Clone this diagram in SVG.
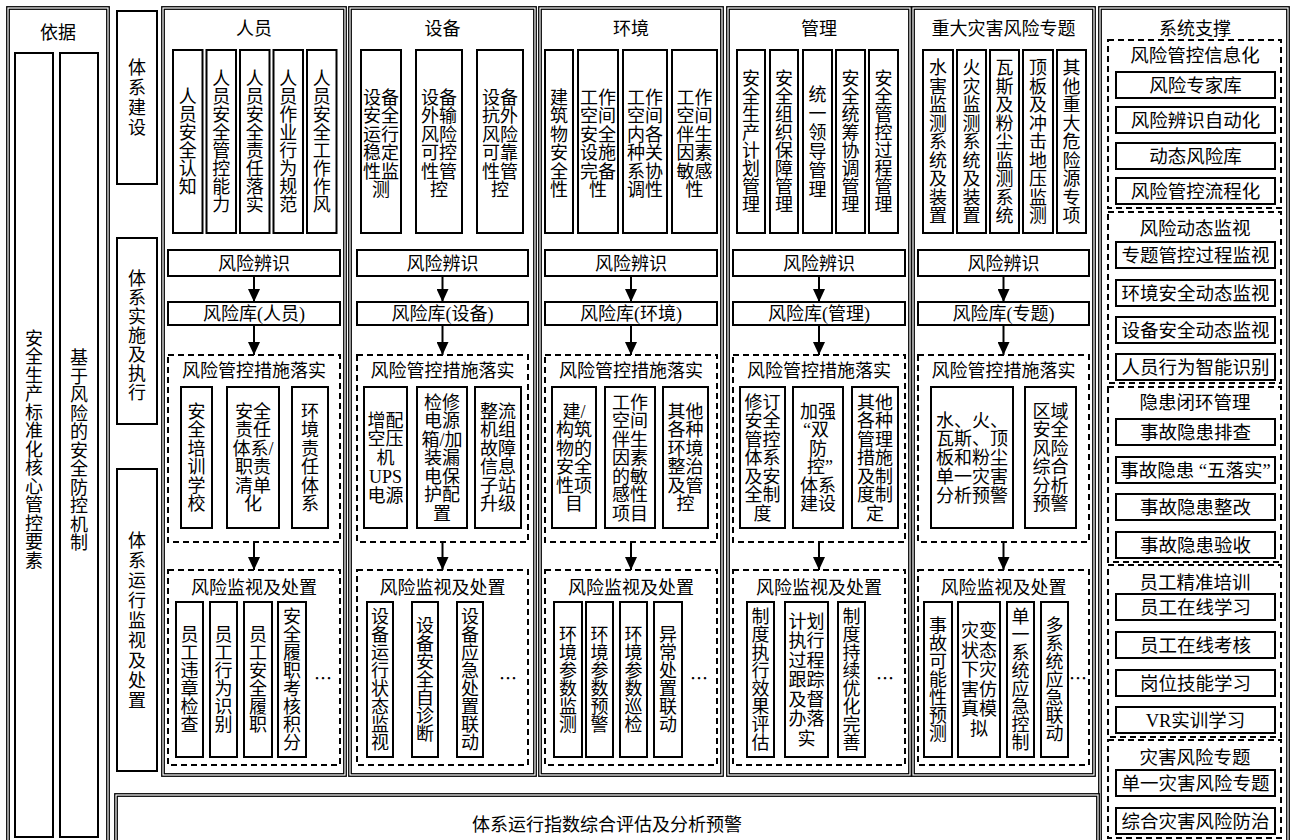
<svg xmlns="http://www.w3.org/2000/svg" width="1292" height="840" viewBox="0 0 1292 840">
<defs>
<style>
.b{fill:#fff;stroke:#000;stroke-width:2}
.o{fill:#fff;stroke:#000;stroke-width:1.3}
.i{fill:none;stroke:#000;stroke-width:1.3}
.d{fill:none;stroke:#000;stroke-width:2;stroke-dasharray:6 4}
.t{font-family:"Liberation Serif","Noto Sans CJK SC",serif;font-size:18px;text-anchor:middle;fill:#000}
.s{font-size:18.5px}
.k{font-family:"Noto Sans CJK SC",sans-serif}
.c{stroke:#000;stroke-width:2;fill:none;marker-end:url(#ah)}
</style>
<marker id="ah" markerUnits="userSpaceOnUse" markerWidth="14" markerHeight="12" refX="13" refY="6" orient="auto"><path d="M0,0 L13,6 L0,12 z" fill="#000"/></marker>
</defs>
<rect width="1292" height="840" fill="#fff"/>

<g id="basis">
<rect class="o" x="6.75" y="6.75" width="102.5" height="845"/>
<rect class="i" x="9.25" y="9.25" width="97.5" height="845"/>
<text class="t" x="58" y="38.5">依据</text>
<rect class="b" x="15" y="53" width="38" height="784"/>
<rect class="b" x="60" y="53" width="38" height="784"/>
<text class="t" x="34 34 34 34 34 34 34 34 34 34 34 34 34" y="344.5 363 381.5 400 418.5 437 455.5 474 492.5 511 529.5 548 566.5">安全生产标准化核心管控要素</text>
<text class="t" x="79 79 79 79 79 79 79 79 79 79 79" y="364 382.5 401 419.5 438 456.5 475 493.5 512 530.5 549">基于风险的安全防控机制</text>
</g>

<g id="stage-build">
<rect class="b" x="117" y="11" width="40" height="173"/>
<text class="t" x="137 137 137 137" y="74 94 114 134">体系建设</text>
</g>
<g id="stage-implement">
<rect class="b" x="117" y="238" width="40" height="186"/>
<text class="t" x="137 137 137 137 137 137 137" y="284.5 303.5 322.5 341.5 360.5 379.5 398.5">体系实施及执行</text>
</g>
<g id="stage-monitor">
<rect class="b" x="117" y="469" width="40" height="302"/>
<text class="t" x="137 137 137 137 137 137 137 137 137" y="546.5 566.5 586.5 606.5 626.5 646.5 666.5 686.5 706.5">体系运行监视及处置</text>
</g>

<g id="personnel">
<rect class="o" x="161.75" y="6.75" width="184.5" height="769.5"/>
<rect class="i" x="164.25" y="9.25" width="179.5" height="764.5"/>
<text class="t" x="254" y="34.5">人员</text>
<rect class="b" x="173" y="50" width="29.5" height="183"/>
<rect class="b" x="206.5" y="50" width="29.5" height="183"/>
<rect class="b" x="240" y="50" width="29.5" height="183"/>
<rect class="b" x="273.5" y="50" width="29.5" height="183"/>
<rect class="b" x="307" y="50" width="29.5" height="183"/>
<text class="t" x="187.75 187.75 187.75 187.75 187.75 187.75" y="103 121 139 157 175 193">人员安全认知</text>
<text class="t" x="221.25 221.25 221.25 221.25 221.25 221.25 221.25 221.25" y="85 103 121 139 157 175 193 211">人员安全管控能力</text>
<text class="t" x="254.75 254.75 254.75 254.75 254.75 254.75 254.75 254.75" y="85 103 121 139 157 175 193 211">人员安全责任落实</text>
<text class="t" x="288.25 288.25 288.25 288.25 288.25 288.25 288.25 288.25" y="85 103 121 139 157 175 193 211">人员作业行为规范</text>
<text class="t" x="321.75 321.75 321.75 321.75 321.75 321.75 321.75 321.75" y="85 103 121 139 157 175 193 211">人员安全工作作风</text>
<rect class="b" x="168" y="250" width="172" height="26"/>
<text class="t" x="254" y="269.5">风险辨识</text>
<rect class="b" x="168" y="302" width="172" height="23"/>
<text class="t" x="254" y="320">风险库(人员)</text>
<rect class="d" x="168" y="355" width="172" height="187"/>
<text class="t" x="254" y="376.5">风险管控措施落实</text>
<rect class="b" x="181" y="387" width="31" height="141"/>
<rect class="b" x="227" y="387" width="52" height="141"/>
<rect class="b" x="292" y="387" width="36" height="141"/>
<text class="t" x="196.5 196.5 196.5 196.5 196.5 196.5" y="417.75 436.25 454.75 473.25 491.75 510.25">安全培训学校</text>
<text class="t"><tspan x="253" y="417.75">安全</tspan><tspan x="253" y="436.25">责任</tspan><tspan x="253" y="454.75">体系/</tspan><tspan x="253" y="473.25">职责</tspan><tspan x="253" y="491.75">清单</tspan><tspan x="253" y="510.25">化</tspan></text>
<text class="t" x="310 310 310 310 310 310" y="417.75 436.25 454.75 473.25 491.75 510.25">环境责任体系</text>
<rect class="d" x="168" y="570" width="172" height="195"/>
<text class="t" x="254" y="593.5">风险监视及处置</text>
<rect class="b" x="176" y="602" width="27" height="155"/>
<rect class="b" x="210" y="602" width="27" height="155"/>
<rect class="b" x="244" y="602" width="28" height="155"/>
<rect class="b" x="278" y="602" width="28" height="155"/>
<text class="t" x="189.5 189.5 189.5 189.5 189.5 189.5" y="641 659 677 695 713 731">员工违章检查</text>
<text class="t" x="223.5 223.5 223.5 223.5 223.5 223.5" y="641 659 677 695 713 731">员工行为识别</text>
<text class="t" x="258 258 258 258 258 258" y="641 659 677 695 713 731">员工安全履职</text>
<text class="t" x="292 292 292 292 292 292 292 292" y="623 641 659 677 695 713 731 749">安全履职考核积分</text>
<text class="t k" x="323" y="684.5">…</text>
</g>

<g id="equipment">
<rect class="o" x="348.75" y="6.75" width="187.5" height="769.5"/>
<rect class="i" x="351.25" y="9.25" width="182.5" height="764.5"/>
<text class="t" x="442.5" y="34.5">设备</text>
<rect class="b" x="361" y="50" width="40" height="183"/>
<rect class="b" x="416" y="50" width="46" height="183"/>
<rect class="b" x="477" y="50" width="46" height="183"/>
<text class="t"><tspan x="381" y="103.5">设备</tspan><tspan x="381" y="122">安全</tspan><tspan x="381" y="140.5">运行</tspan><tspan x="381" y="159">稳定</tspan><tspan x="381" y="177.5">性监</tspan><tspan x="381" y="196">测</tspan></text>
<text class="t"><tspan x="439" y="103.5">设备</tspan><tspan x="439" y="122">外输</tspan><tspan x="439" y="140.5">风险</tspan><tspan x="439" y="159">可控</tspan><tspan x="439" y="177.5">性管</tspan><tspan x="439" y="196">控</tspan></text>
<text class="t"><tspan x="500" y="103.5">设备</tspan><tspan x="500" y="122">抗外</tspan><tspan x="500" y="140.5">风险</tspan><tspan x="500" y="159">可靠</tspan><tspan x="500" y="177.5">性管</tspan><tspan x="500" y="196">控</tspan></text>
<rect class="b" x="357" y="250" width="171" height="26"/>
<text class="t" x="442.5" y="269.5">风险辨识</text>
<rect class="b" x="357" y="302" width="171" height="23"/>
<text class="t" x="442.5" y="320">风险库(设备)</text>
<rect class="d" x="357" y="355" width="171" height="187"/>
<text class="t" x="442.5" y="376.5">风险管控措施落实</text>
<rect class="b" x="364" y="387" width="43" height="141"/>
<rect class="b" x="417" y="387" width="50" height="141"/>
<rect class="b" x="475" y="387" width="46" height="141"/>
<text class="t"><tspan x="385.5" y="426.5">增配</tspan><tspan x="385.5" y="445.25">空压</tspan><tspan x="385.5" y="464">机</tspan><tspan x="385.5" y="482.75">UPS</tspan><tspan x="385.5" y="501.5">电源</tspan></text>
<text class="t"><tspan x="442" y="408.5">检修</tspan><tspan x="442" y="427">电源</tspan><tspan x="442" y="445.5">箱/加</tspan><tspan x="442" y="464">装漏</tspan><tspan x="442" y="482.5">电保</tspan><tspan x="442" y="501">护配</tspan><tspan x="442" y="519.5">置</tspan></text>
<text class="t"><tspan x="498" y="417.75">整流</tspan><tspan x="498" y="436.25">机组</tspan><tspan x="498" y="454.75">故障</tspan><tspan x="498" y="473.25">信息</tspan><tspan x="498" y="491.75">子站</tspan><tspan x="498" y="510.25">升级</tspan></text>
<rect class="d" x="357" y="570" width="171" height="195"/>
<text class="t" x="442.5" y="593.5">风险监视及处置</text>
<rect class="b" x="367" y="602" width="26" height="155"/>
<rect class="b" x="412" y="602" width="26" height="155"/>
<rect class="b" x="457" y="602" width="26" height="155"/>
<text class="t" x="380 380 380 380 380 380 380 380" y="623 641 659 677 695 713 731 749">设备运行状态监视</text>
<text class="t" x="425 425 425 425 425 425 425" y="632 650 668 686 704 722 740">设备安全自诊断</text>
<text class="t" x="470 470 470 470 470 470 470 470" y="623 641 659 677 695 713 731 749">设备应急处置联动</text>
<text class="t k" x="508" y="684.5">…</text>
</g>

<g id="environment">
<rect class="o" x="538.75" y="6.75" width="184.5" height="769.5"/>
<rect class="i" x="541.25" y="9.25" width="179.5" height="764.5"/>
<text class="t" x="631" y="34.5">环境</text>
<rect class="b" x="545" y="50" width="28" height="183"/>
<rect class="b" x="578" y="50" width="40" height="183"/>
<rect class="b" x="623" y="50" width="44" height="183"/>
<rect class="b" x="672" y="50" width="45" height="183"/>
<text class="t" x="559 559 559 559 559 559" y="103.5 122 140.5 159 177.5 196">建筑物安全性</text>
<text class="t"><tspan x="598" y="103.5">工作</tspan><tspan x="598" y="122">空间</tspan><tspan x="598" y="140.5">安全</tspan><tspan x="598" y="159">设施</tspan><tspan x="598" y="177.5">完备</tspan><tspan x="598" y="196">性</tspan></text>
<text class="t"><tspan x="645" y="103.5">工作</tspan><tspan x="645" y="122">空间</tspan><tspan x="645" y="140.5">内各</tspan><tspan x="645" y="159">种关</tspan><tspan x="645" y="177.5">系协</tspan><tspan x="645" y="196">调性</tspan></text>
<text class="t"><tspan x="694.5" y="103.5">工作</tspan><tspan x="694.5" y="122">空间</tspan><tspan x="694.5" y="140.5">伴生</tspan><tspan x="694.5" y="159">因素</tspan><tspan x="694.5" y="177.5">敏感</tspan><tspan x="694.5" y="196">性</tspan></text>
<rect class="b" x="545" y="250" width="172" height="26"/>
<text class="t" x="631" y="269.5">风险辨识</text>
<rect class="b" x="545" y="302" width="172" height="23"/>
<text class="t" x="631" y="320">风险库(环境)</text>
<rect class="d" x="545" y="355" width="172" height="187"/>
<text class="t" x="631" y="376.5">风险管控措施落实</text>
<rect class="b" x="552" y="387" width="44" height="141"/>
<rect class="b" x="605" y="387" width="50" height="141"/>
<rect class="b" x="663" y="387" width="45" height="141"/>
<text class="t"><tspan x="574" y="417.75">建/</tspan><tspan x="574" y="436.25">构筑</tspan><tspan x="574" y="454.75">物的</tspan><tspan x="574" y="473.25">安全</tspan><tspan x="574" y="491.75">性项</tspan><tspan x="574" y="510.25">目</tspan></text>
<text class="t"><tspan x="630" y="408.5">工作</tspan><tspan x="630" y="427">空间</tspan><tspan x="630" y="445.5">伴生</tspan><tspan x="630" y="464">因素</tspan><tspan x="630" y="482.5">的敏</tspan><tspan x="630" y="501">感性</tspan><tspan x="630" y="519.5">项目</tspan></text>
<text class="t"><tspan x="685.5" y="417.75">其他</tspan><tspan x="685.5" y="436.25">各种</tspan><tspan x="685.5" y="454.75">环境</tspan><tspan x="685.5" y="473.25">整治</tspan><tspan x="685.5" y="491.75">及管</tspan><tspan x="685.5" y="510.25">控</tspan></text>
<rect class="d" x="545" y="570" width="172" height="195"/>
<text class="t" x="631" y="593.5">风险监视及处置</text>
<rect class="b" x="554" y="602" width="28" height="155"/>
<rect class="b" x="586" y="602" width="27" height="155"/>
<rect class="b" x="620" y="602" width="27" height="155"/>
<rect class="b" x="654" y="602" width="28" height="155"/>
<text class="t" x="568 568 568 568 568 568" y="641 659 677 695 713 731">环境参数监测</text>
<text class="t" x="599.5 599.5 599.5 599.5 599.5 599.5" y="641 659 677 695 713 731">环境参数预警</text>
<text class="t" x="633.5 633.5 633.5 633.5 633.5 633.5" y="641 659 677 695 713 731">环境参数巡检</text>
<text class="t" x="668 668 668 668 668 668" y="641 659 677 695 713 731">异常处置联动</text>
<text class="t k" x="699" y="684.5">…</text>
</g>

<g id="management">
<rect class="o" x="726.75" y="6.75" width="184.5" height="769.5"/>
<rect class="i" x="729.25" y="9.25" width="179.5" height="764.5"/>
<text class="t" x="819" y="34.5">管理</text>
<rect class="b" x="737" y="50" width="28" height="183"/>
<rect class="b" x="770" y="50" width="28" height="183"/>
<rect class="b" x="803" y="50" width="29" height="183"/>
<rect class="b" x="836" y="50" width="29" height="183"/>
<rect class="b" x="869" y="50" width="29" height="183"/>
<text class="t" x="751 751 751 751 751 751 751 751" y="85 103 121 139 157 175 193 211">安全生产计划管理</text>
<text class="t" x="784 784 784 784 784 784 784 784" y="85 103 121 139 157 175 193 211">安全组织保障管理</text>
<text class="t" x="817.5 817.5 817.5 817.5 817.5 817.5" y="100.5 119.5 138.5 157.5 176.5 195.5">统一领导管理</text>
<text class="t" x="850.5 850.5 850.5 850.5 850.5 850.5 850.5 850.5" y="85 103 121 139 157 175 193 211">安全统筹协调管理</text>
<text class="t" x="883.5 883.5 883.5 883.5 883.5 883.5 883.5 883.5" y="85 103 121 139 157 175 193 211">安全管控过程管理</text>
<rect class="b" x="733" y="250" width="172" height="26"/>
<text class="t" x="819" y="269.5">风险辨识</text>
<rect class="b" x="733" y="302" width="172" height="23"/>
<text class="t" x="819" y="320">风险库(管理)</text>
<rect class="d" x="733" y="355" width="172" height="187"/>
<text class="t" x="819" y="376.5">风险管控措施落实</text>
<rect class="b" x="740" y="387" width="45" height="141"/>
<rect class="b" x="793" y="387" width="50" height="141"/>
<rect class="b" x="852" y="387" width="46" height="141"/>
<text class="t"><tspan x="762.5" y="408.5">修订</tspan><tspan x="762.5" y="427">安全</tspan><tspan x="762.5" y="445.5">管控</tspan><tspan x="762.5" y="464">体系</tspan><tspan x="762.5" y="482.5">及安</tspan><tspan x="762.5" y="501">全制</tspan><tspan x="762.5" y="519.5">度</tspan></text>
<text class="t"><tspan x="818" y="417.75">加强</tspan><tspan x="816" y="436.25">“双</tspan><tspan x="818" y="454.75">防</tspan><tspan x="820" y="473.25">控”</tspan><tspan x="818" y="491.75">体系</tspan><tspan x="818" y="510.25">建设</tspan></text>
<text class="t"><tspan x="875" y="408.5">其他</tspan><tspan x="875" y="427">各种</tspan><tspan x="875" y="445.5">管理</tspan><tspan x="875" y="464">措施</tspan><tspan x="875" y="482.5">及制</tspan><tspan x="875" y="501">度制</tspan><tspan x="875" y="519.5">定</tspan></text>
<rect class="d" x="733" y="570" width="172" height="195"/>
<text class="t" x="819" y="593.5">风险监视及处置</text>
<rect class="b" x="747" y="602" width="27" height="155"/>
<rect class="b" x="785" y="602" width="43" height="155"/>
<rect class="b" x="838" y="602" width="27" height="155"/>
<text class="t" x="760.5 760.5 760.5 760.5 760.5 760.5 760.5 760.5" y="623 641 659 677 695 713 731 749">制度执行效果评估</text>
<text class="t"><tspan x="806.5" y="627.5">计划</tspan><tspan x="806.5" y="647">执行</tspan><tspan x="806.5" y="666.5">过程</tspan><tspan x="806.5" y="686">跟踪</tspan><tspan x="806.5" y="705.5">及督</tspan><tspan x="806.5" y="725">办落</tspan><tspan x="806.5" y="744.5">实</tspan></text>
<text class="t" x="851.5 851.5 851.5 851.5 851.5 851.5 851.5 851.5" y="623 641 659 677 695 713 731 749">制度持续优化完善</text>
<text class="t k" x="885" y="684.5">…</text>
</g>

<g id="disaster">
<rect class="o" x="911.75" y="6.75" width="183.5" height="769.5"/>
<rect class="i" x="914.25" y="9.25" width="178.5" height="764.5"/>
<text class="t" x="1003.5" y="34.5">重大灾害风险专题</text>
<rect class="b" x="923" y="50" width="30" height="183"/>
<rect class="b" x="957" y="50" width="29" height="183"/>
<rect class="b" x="990" y="50" width="29" height="183"/>
<rect class="b" x="1023" y="50" width="30" height="183"/>
<rect class="b" x="1057" y="50" width="29" height="183"/>
<text class="t" x="938 938 938 938 938 938 938 938 938" y="74 92.5 111 129.5 148 166.5 185 203.5 222">水害监测系统及装置</text>
<text class="t" x="971.5 971.5 971.5 971.5 971.5 971.5 971.5 971.5 971.5" y="74 92.5 111 129.5 148 166.5 185 203.5 222">火灾监测系统及装置</text>
<text class="t" x="1004.5 1004.5 1004.5 1004.5 1004.5 1004.5 1004.5 1004.5 1004.5" y="74 92.5 111 129.5 148 166.5 185 203.5 222">瓦斯及粉尘监测系统</text>
<text class="t" x="1038 1038 1038 1038 1038 1038 1038 1038 1038" y="74 92.5 111 129.5 148 166.5 185 203.5 222">顶板及冲击地压监测</text>
<text class="t" x="1071.5 1071.5 1071.5 1071.5 1071.5 1071.5 1071.5 1071.5 1071.5" y="74 92.5 111 129.5 148 166.5 185 203.5 222">其他重大危险源专项</text>
<rect class="b" x="918" y="250" width="171" height="26"/>
<text class="t" x="1003.5" y="269.5">风险辨识</text>
<rect class="b" x="918" y="302" width="171" height="23"/>
<text class="t" x="1003.5" y="320">风险库(专题)</text>
<rect class="d" x="918" y="355" width="171" height="187"/>
<text class="t" x="1003.5" y="376.5">风险管控措施落实</text>
<rect class="b" x="931" y="387" width="82" height="141"/>
<rect class="b" x="1025" y="387" width="51" height="141"/>
<text class="t"><tspan x="972" y="426.5">水、火、</tspan><tspan x="972" y="445.25">瓦斯、顶</tspan><tspan x="972" y="464">板和粉尘</tspan><tspan x="972" y="482.75">单一灾害</tspan><tspan x="972" y="501.5">分析预警</tspan></text>
<text class="t"><tspan x="1050.5" y="417.75">区域</tspan><tspan x="1050.5" y="436.25">安全</tspan><tspan x="1050.5" y="454.75">风险</tspan><tspan x="1050.5" y="473.25">综合</tspan><tspan x="1050.5" y="491.75">分析</tspan><tspan x="1050.5" y="510.25">预警</tspan></text>
<rect class="d" x="918" y="570" width="171" height="195"/>
<text class="t" x="1003.5" y="593.5">风险监视及处置</text>
<rect class="b" x="924" y="602" width="28" height="155"/>
<rect class="b" x="958" y="602" width="42" height="155"/>
<rect class="b" x="1007" y="602" width="27" height="155"/>
<rect class="b" x="1041" y="602" width="27" height="155"/>
<text class="t" x="938 938 938 938 938 938 938" y="632 650 668 686 704 722 740">事故可能性预测</text>
<text class="t"><tspan x="979" y="637.25">灾变</tspan><tspan x="979" y="656.75">状态</tspan><tspan x="979" y="676.25">下灾</tspan><tspan x="979" y="695.75">害仿</tspan><tspan x="979" y="715.25">真模</tspan><tspan x="979" y="734.75">拟</tspan></text>
<text class="t" x="1020.5 1020.5 1020.5 1020.5 1020.5 1020.5 1020.5 1020.5" y="623 641 659 677 695 713 731 749">单一系统应急控制</text>
<text class="t" x="1054.5 1054.5 1054.5 1054.5 1054.5 1054.5 1054.5" y="632 650 668 686 704 722 740">多系统应急联动</text>
<text class="t k" x="1078" y="684.5">…</text>
</g>

<g id="support">
<rect class="o" x="1098.75" y="6.75" width="190.5" height="845"/>
<rect class="i" x="1101.25" y="9.25" width="185.5" height="845"/>
<text class="t" x="1195" y="34.5">系统支撑</text>
<rect class="d" x="1108" y="40" width="173" height="168"/>
<text class="t s" x="1195" y="61.5">风险管控信息化</text>
<rect class="b" x="1116" y="72" width="159" height="26"/>
<rect class="b" x="1116" y="107" width="159" height="26"/>
<rect class="b" x="1116" y="143" width="159" height="26"/>
<rect class="b" x="1116" y="178" width="159" height="26"/>
<text class="t s" x="1195.5" y="91.5">风险专家库</text>
<text class="t s" x="1195.5" y="126.5">风险辨识自动化</text>
<text class="t s" x="1195.5" y="162.5">动态风险库</text>
<text class="t s" x="1195.5" y="197.5">风险管控流程化</text>
<rect class="d" x="1108" y="212" width="173" height="171"/>
<text class="t s" x="1195" y="234.5">风险动态监视</text>
<rect class="b" x="1116" y="242" width="159" height="26"/>
<rect class="b" x="1116" y="280" width="159" height="26"/>
<rect class="b" x="1116" y="317" width="159" height="26"/>
<rect class="b" x="1116" y="354" width="159" height="26"/>
<text class="t s" x="1195.5" y="261.5">专题管控过程监视</text>
<text class="t s" x="1195.5" y="299.5">环境安全动态监视</text>
<text class="t s" x="1195.5" y="336.5">设备安全动态监视</text>
<text class="t s" x="1195.5" y="373.5">人员行为智能识别</text>
<rect class="d" x="1108" y="387" width="173" height="175"/>
<text class="t s" x="1195" y="409">隐患闭环管理</text>
<rect class="b" x="1116" y="419" width="159" height="26"/>
<rect class="b" x="1116" y="457" width="159" height="26"/>
<rect class="b" x="1116" y="494" width="159" height="26"/>
<rect class="b" x="1116" y="532" width="159" height="26"/>
<text class="t s" x="1195.5" y="438.5">事故隐患排查</text>
<text class="t s" x="1195.5" y="476.5">事故隐患 “五落实”</text>
<text class="t s" x="1195.5" y="513.5">事故隐患整改</text>
<text class="t s" x="1195.5" y="551.5">事故隐患验收</text>
<rect class="d" x="1108" y="565" width="173" height="172"/>
<text class="t s" x="1195" y="588.5">员工精准培训</text>
<rect class="b" x="1116" y="594" width="159" height="26"/>
<rect class="b" x="1116" y="632" width="159" height="26"/>
<rect class="b" x="1116" y="670" width="159" height="26"/>
<rect class="b" x="1116" y="707" width="159" height="26"/>
<text class="t s" x="1195.5" y="613.5">员工在线学习</text>
<text class="t s" x="1195.5" y="651.5">员工在线考核</text>
<text class="t s" x="1195.5" y="689.5">岗位技能学习</text>
<text class="t s" x="1195.5" y="726.5">VR实训学习</text>
<rect class="d" x="1108" y="740" width="173" height="98"/>
<text class="t s" x="1195" y="763.5">灾害风险专题</text>
<rect class="b" x="1116" y="770" width="159" height="26"/>
<rect class="b" x="1116" y="808" width="159" height="26"/>
<text class="t s" x="1195.5" y="789.5">单一灾害风险专题</text>
<text class="t s" x="1195.5" y="827.5">综合灾害风险防治</text>
</g>

<g id="evaluation">
<rect class="o" x="114.75" y="793.75" width="984.5" height="60"/>
<rect class="i" x="117.25" y="796.25" width="979.5" height="60"/>
<text class="t" x="607" y="830.5">体系运行指数综合评估及分析预警</text>
</g>

<g id="connectors">
<path class="c" d="M254 276 V302"/>
<path class="c" d="M254 325 V355"/>
<path class="c" d="M254 542 V570"/>
<path class="c" d="M442.5 276 V302"/>
<path class="c" d="M442.5 325 V355"/>
<path class="c" d="M442.5 542 V570"/>
<path class="c" d="M631 276 V302"/>
<path class="c" d="M631 325 V355"/>
<path class="c" d="M631 542 V570"/>
<path class="c" d="M819 276 V302"/>
<path class="c" d="M819 325 V355"/>
<path class="c" d="M819 542 V570"/>
<path class="c" d="M1003.5 276 V302"/>
<path class="c" d="M1003.5 325 V355"/>
<path class="c" d="M1003.5 542 V570"/>
</g>
</svg>
